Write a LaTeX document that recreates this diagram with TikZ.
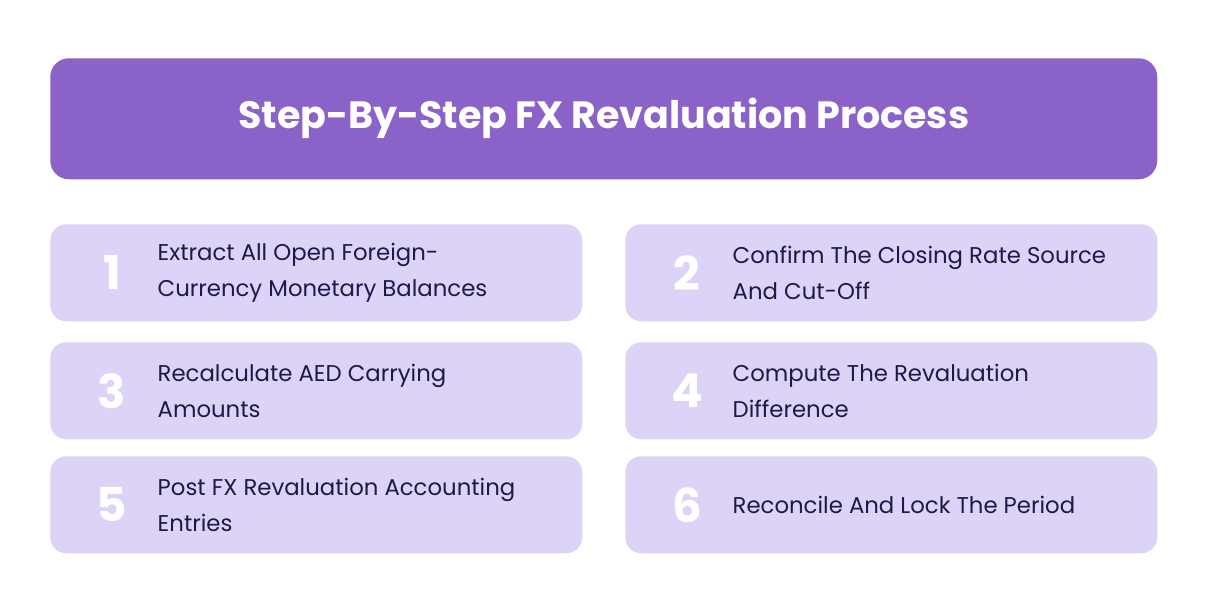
\documentclass[tikz,border=0pt]{standalone}
\usepackage{fontspec}
\setmainfont{Poppins}
\usetikzlibrary{shadows}
\definecolor{hdr}{HTML}{8B63C8}
\definecolor{card}{HTML}{DDD3F7}
\definecolor{ink}{HTML}{1C1A4A}
\tikzset{
 cardbox/.style={fill=card,rounded corners=12pt,draw=none},
 num/.style={text=white,font=\fontsize{35}{38}\selectfont\bfseries,anchor=center},
 lbl/.style={text=ink,font=\fontsize{17.1}{27}\selectfont,anchor=west,align=left}
}
\begin{document}
\begin{tikzpicture}[x=0.75pt,y=-0.75pt]
\useasboundingbox[fill=white] (0,0) rectangle (1208,602);
\node[fill=hdr,rounded corners=14pt,minimum width=1107*0.75pt,minimum height=121*0.75pt,anchor=north west,text=white,font=\fontsize{28.5}{32}\selectfont\bfseries] (title) at (50,58) {Step-By-Step FX Revaluation Process};
\foreach \n/\x/\y/\t in {1/50/224/{Extract All Open Foreign-\\Currency Monetary Balances},2/625/224/{Confirm The Closing Rate Source\\And Cut-Off},3/50/342/{Recalculate AED Carrying\\Amounts},4/625/342/{Compute The Revaluation\\Difference},5/50/456/{Post FX Revaluation Accounting\\Entries},6/625/456/{Reconcile And Lock The Period}}{
 \node[cardbox,minimum width=532*0.75pt,minimum height=97*0.75pt,anchor=north west] (c\n) at (\x,\y) {};
 \node[num] (n\n) at ([xshift=62*0.75pt]c\n.west) {\n};
 \node[lbl] (t\n) at ([xshift=103*0.75pt]c\n.west) {\t};
}
\end{tikzpicture}
\end{document}
